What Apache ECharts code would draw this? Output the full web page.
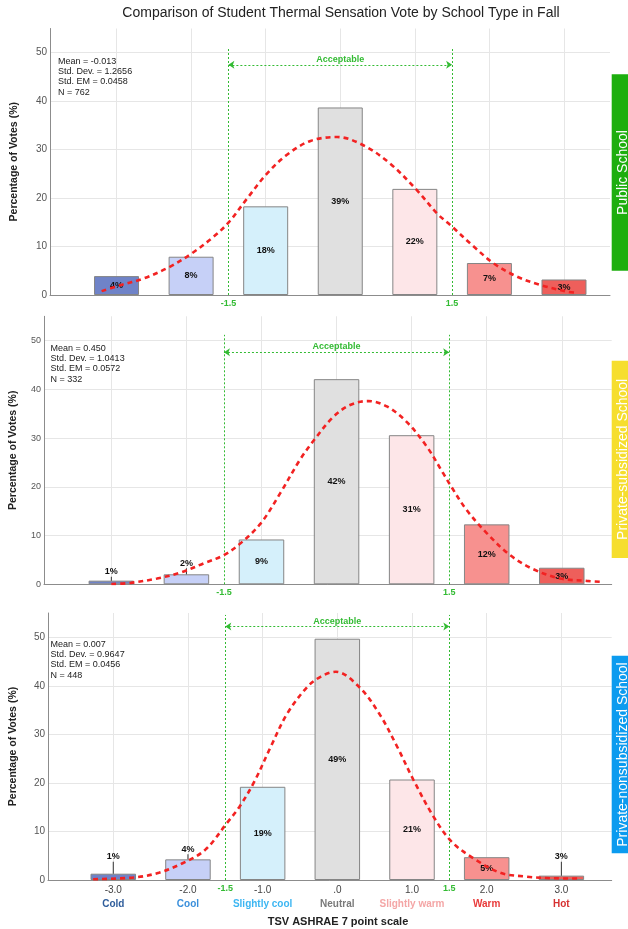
<!DOCTYPE html>
<html><head><meta charset="utf-8">
<script src="https://cdn.jsdelivr.net/npm/echarts@6/dist/echarts.min.js"></script>
<style>html,body{margin:0;padding:0;background:#fff}#c{width:628px;height:929px}</style>
</head><body><div id="c"></div>
<script>
// ---------- data ----------
const categories = ['Cold', 'Cool', 'Slightly cool', 'Neutral', 'Slightly warm', 'Warm', 'Hot'];
const tsvValues = [-3, -2, -1, 0, 1, 2, 3];
const tickLabels = ['-3.0', '-2.0', '-1.0', '.0', '1.0', '2.0', '3.0'];
const panelNames = ['Public School', 'Private-subsidized School', 'Private-nonsubsidized School'];

const publicPct = [3.9, 7.9, 18.3, 38.7, 21.9, 6.6, 3.2];
const subsidizedPct = [0.75, 2.05, 9.2, 42.1, 30.6, 12.3, 3.4];
const nonsubsidizedPct = [1.3, 4.25, 19.2, 49.7, 20.7, 4.7, 0.9];

const publicLabels = ['4%', '8%', '18%', '39%', '22%', '7%', '3%'];
const subsidizedLabels = ['1%', '2%', '9%', '42%', '31%', '12%', '3%'];
const nonsubsidizedLabels = ['1%', '4%', '19%', '49%', '21%', '5%', '3%'];

const publicStats = ['Mean = -0.013', 'Std. Dev. = 1.2656', 'Std. EM = 0.0458', 'N = 762'];
const subsidizedStats = ['Mean = 0.450', 'Std. Dev. = 1.0413', 'Std. EM = 0.0572', 'N = 332'];
const nonsubsidizedStats = ['Mean = 0.007', 'Std. Dev. = 0.9647', 'Std. EM = 0.0456', 'N = 448'];

// normal curves: [tsv, percent]
const publicCurve = [[-3.2, 0.8], [-2.95, 2.0], [-2.64, 3.4], [-2.30, 5.7], [-1.99, 8.6], [-1.70, 12.0], [-1.49, 15.1], [-1.25, 19.9], [-0.98, 25.1], [-0.71, 29.0], [-0.40, 31.8], [-0.04, 32.6], [0.31, 30.9], [0.67, 27.1], [1.03, 21.6], [1.30, 16.8], [1.50, 14.1], [1.79, 10.0], [2.06, 6.5], [2.37, 3.8], [2.68, 2.1], [3.04, 0.7], [3.15, 0.5]];
const subsidizedCurve = [[-3.0, 0.05], [-2.74, 0.3], [-2.39, 1.2], [-2.08, 2.4], [-1.77, 4.3], [-1.50, 6.0], [-1.28, 8.4], [-1.01, 12.5], [-0.75, 18.7], [-0.49, 25.5], [-0.30, 29.6], [-0.04, 34.4], [0.18, 36.8], [0.42, 37.6], [0.67, 36.5], [0.93, 33.4], [1.20, 28.3], [1.42, 22.8], [1.53, 20.0], [1.73, 15.3], [2.00, 10.5], [2.31, 6.0], [2.62, 3.1], [2.98, 1.2], [3.33, 0.7], [3.53, 0.5]];
const nonsubsidizedCurve = [[-3.27, 0.15], [-2.70, 0.55], [-2.39, 1.5], [-2.08, 3.4], [-1.77, 6.2], [-1.48, 11.7], [-1.31, 15.1], [-1.11, 20.3], [-0.89, 27.5], [-0.67, 34.3], [-0.40, 39.8], [-0.22, 41.9], [-0.02, 42.9], [0.29, 39.8], [0.56, 34.3], [0.80, 27.5], [1.02, 20.6], [1.29, 13.0], [1.53, 7.9], [1.82, 4.5], [2.18, 1.5], [2.53, 0.7], [2.89, 0.35], [3.24, 0.3]];

const acceptRange = [-1.5, 1.5];
const acceptRangeLabels = ['-1.5', '1.5'];
const acceptText = 'Acceptable';
const acceptArrowY = [47.5, 47.6, 52.2];
const acceptLineTop = [50.9, 51.2, 54.6];
const yMax = 55;

const chartTitle = 'Comparison of Student Thermal Sensation Vote by School Type in Fall';
const yName = 'Percentage of Votes (%)';
const xName = 'TSV ASHRAE 7 point scale';

// ---------- styling / layout ----------
const FONT = "'Liberation Sans', Arial, Helvetica, sans-serif";
const barColors = ['#6F83C8', '#C6D0F7', '#D5F0FB', '#E0E0E0', '#FDE6E8', '#F7918F', '#EE5F5B'];
const catColors = ['#2F5D9B', '#3A8FDB', '#3CB6F2', '#7A7A7A', '#F4A6A6', '#E93A3A', '#D63131'];
const boxColors = ['#1DAE0E', '#F6DE2E', '#0C9BEF'];
const GREEN = '#33BB33';

// outside: index of bar -> leader length (px) for labels placed above small bars
const panels = [
  { pct: publicPct, labels: publicLabels, stats: publicStats, curve: publicCurve,
    grid: { left: 50, top: 28.5, width: 560, height: 266.5 }, xMin: -3.892, xMax: 3.617,
    yFont: 10, nameGap: 30, statsX: 58, statsY: 56, outside: {}, box: [74.3, 270.7], barW: 45 },
  { pct: subsidizedPct, labels: subsidizedLabels, stats: subsidizedStats, curve: subsidizedCurve,
    grid: { left: 43.3, top: 316.3, width: 568.4, height: 268 }, xMin: -3.897, xMax: 3.665,
    yFont: 9, nameGap: 25, statsX: 50.5, statsY: 343, outside: { 0: 4, 1: 6 }, box: [360.7, 558], barW: 45.5 },
  { pct: nonsubsidizedPct, labels: nonsubsidizedLabels, stats: nonsubsidizedStats, curve: nonsubsidizedCurve,
    grid: { left: 44.3, top: 613, width: 567.4, height: 267 }, xMin: -3.874, xMax: 3.674,
    yFont: 10, nameGap: 29, statsX: 50.5, statsY: 639, outside: { 0: 12, 1: 5, 6: 14 }, box: [655.7, 853.3], barW: 45.5 }
];

const grids = [], xAxes = [], yAxes = [], series = [], graphics = [];

const rich = { n: { color: '#444', fontSize: 10, fontFamily: FONT, lineHeight: 14 } };
catColors.forEach((c, i) => { rich['c' + i] = { color: c, fontSize: 10, fontWeight: 'bold', fontFamily: FONT, lineHeight: 14 }; });

function labelRich(gap) {
  return {
    t: { fontFamily: FONT, fontSize: 9, fontWeight: 'bold', color: '#111', lineHeight: 10 },
    l: { width: 1, height: gap, lineHeight: gap, backgroundColor: '#333', fontSize: 1 }
  };
}

panels.forEach((p, k) => {
  grids.push(Object.assign({ containLabel: false }, p.grid));
  const isLast = k === panels.length - 1;
  xAxes.push({
    type: 'value', gridIndex: k, min: p.xMin, max: p.xMax, minInterval: 1, maxInterval: 1,
    axisLine: { show: true, onZero: false, lineStyle: { color: '#8C8C8C', width: 1 } },
    axisTick: { show: false },
    splitLine: { show: true, showMinLine: false, showMaxLine: false, lineStyle: { color: '#E6E6E6', width: 1 } },
    axisLabel: {
      show: isLast, showMinLabel: false, showMaxLabel: false, margin: 3,
      formatter: v => {
        const i = tsvValues.indexOf(Math.round(v));
        if (i < 0 || Math.abs(v - tsvValues[i]) > 1e-6) return '';
        return '{n|' + tickLabels[i] + '}\n{c' + i + '|' + categories[i] + '}';
      },
      rich: rich
    }
  });
  yAxes.push({
    type: 'value', gridIndex: k, min: 0, max: yMax, interval: 10,
    name: yName, nameLocation: 'middle', nameGap: p.nameGap,
    nameTextStyle: { fontFamily: FONT, fontSize: 10.5, fontWeight: 'bold', color: '#222' },
    axisLine: { show: true, onZero: false, lineStyle: { color: '#8C8C8C', width: 1 } },
    axisTick: { show: false },
    splitLine: { show: true, showMaxLine: false, lineStyle: { color: '#E6E6E6', width: 1 } },
    axisLabel: { showMaxLabel: false, color: '#555', fontSize: p.yFont, fontFamily: FONT, margin: 3 }
  });

  series.push({
    type: 'bar', xAxisIndex: k, yAxisIndex: k, barWidth: p.barW, z: 2,
    data: tsvValues.map((x, i) => {
      const gap = p.outside[i];
      return {
        value: [x, p.pct[i]],
        itemStyle: { color: barColors[i], borderColor: '#858585', borderWidth: 1 },
        label: gap !== undefined
          ? { position: 'top', distance: 0, formatter: '{t|' + p.labels[i] + '}\n{l| }', rich: labelRich(gap) }
          : { position: 'inside', formatter: '{t|' + p.labels[i] + '}', rich: labelRich(1) }
      };
    }),
    label: { show: true },
    animation: false
  });

  series.push({
    type: 'line', xAxisIndex: k, yAxisIndex: k, data: p.curve, smooth: 0.35, showSymbol: false, z: 5,
    lineStyle: { color: '#F22222', width: 2.6, type: [5, 4] },
    animation: false, silent: true,
    markLine: {
      silent: true, animation: false, symbol: ['none', 'none'],
      lineStyle: { color: GREEN, width: 1, type: [2, 2] },
      label: { show: false },
      data: [
        [{ coord: [acceptRange[0], 0], label: { show: true, position: 'start', distance: 4, formatter: acceptRangeLabels[0], color: GREEN, fontSize: 9, fontWeight: 'bold', fontFamily: FONT } },
         { coord: [acceptRange[0], acceptLineTop[k]] }],
        [{ coord: [acceptRange[1], 0], label: { show: true, position: 'start', distance: 4, formatter: acceptRangeLabels[1], color: GREEN, fontSize: 9, fontWeight: 'bold', fontFamily: FONT } },
         { coord: [acceptRange[1], acceptLineTop[k]] }],
        [{ coord: [acceptRange[0], acceptArrowY[k]], symbol: 'arrow', symbolSize: [6, 6],
           label: { show: true, position: 'insideMiddleTop', distance: 1, formatter: acceptText, color: GREEN, fontSize: 9, fontWeight: 'bold', fontFamily: FONT } },
         { coord: [acceptRange[1], acceptArrowY[k]], symbol: 'arrow', symbolSize: [6, 6] }]
      ]
    }
  });

  graphics.push({
    type: 'text', x: p.statsX, y: p.statsY, z: 10,
    style: { text: p.stats.join('\n'), fontFamily: FONT, fontSize: 9, lineHeight: 10.3, fill: '#222', textVerticalAlign: 'top' }
  });
  graphics.push({
    type: 'rect', shape: { x: 611.7, y: p.box[0], width: 40, height: p.box[1] - p.box[0] }, z: 20,
    style: { fill: boxColors[k] }
  });
  graphics.push({
    type: 'text', x: 623.5, y: (p.box[0] + p.box[1]) / 2, rotation: Math.PI / 2, z: 21,
    style: { text: panelNames[k], fontFamily: FONT, fontSize: 14, fill: '#fff', textAlign: 'center', textVerticalAlign: 'middle' }
  });
});

graphics.push({
  type: 'text', x: 341, y: 13, z: 10,
  style: { text: chartTitle, fontFamily: FONT, fontSize: 14, fill: '#222', textAlign: 'center', textVerticalAlign: 'middle' }
});
graphics.push({
  type: 'text', x: 338, y: 921.7, z: 10,
  style: { text: xName, fontFamily: FONT, fontSize: 11, fontWeight: 'bold', fill: '#222', textAlign: 'center', textVerticalAlign: 'middle' }
});

const chart = echarts.init(document.getElementById('c'), null, { renderer: 'canvas' });
chart.setOption({
  backgroundColor: '#fff',
  animation: false,
  grid: grids, xAxis: xAxes, yAxis: yAxes, series: series, graphic: graphics
});
</script></body></html>
